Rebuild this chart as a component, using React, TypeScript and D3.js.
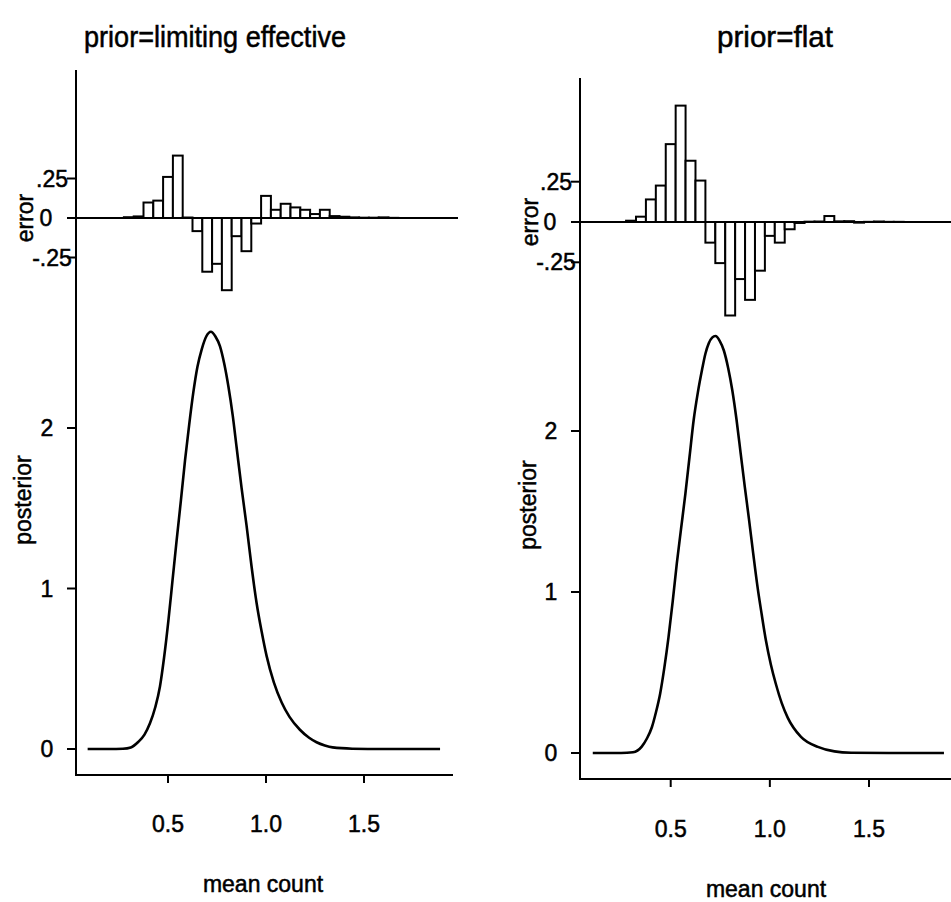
import React from 'react';
import * as d3 from 'd3';

// ---------- data ----------
const panelTitles = ['prior=limiting effective', 'prior=flat'];
const xTicks = [0.5, 1.0, 1.5];
const xTickLabels = ['0.5', '1.0', '1.5'];
const postTicks = [0, 1, 2];
const postTickLabels = ['0', '1', '2'];
const errTicks = [0.25, 0, -0.25];
const errTickLabels = ['.25', '0', '-.25'];
const xAxisTitle = 'mean count';
const postAxisTitle = 'posterior';
const errAxisTitle = 'error';

const binWidth = 0.05;
const binLefts = [
  0.275, 0.325, 0.375, 0.425, 0.475, 0.525, 0.575, 0.625, 0.675, 0.725,
  0.775, 0.825, 0.875, 0.925, 0.975, 1.025, 1.075, 1.125, 1.175, 1.225,
  1.275, 1.325, 1.375, 1.425, 1.475, 1.525, 1.575, 1.625,
];
const errLimiting = [
  0.005, 0.01, 0.098, 0.11, 0.26, 0.395, 0.003, -0.083, -0.34, -0.29,
  -0.457, -0.115, -0.21, -0.035, 0.14, 0.052, 0.09, 0.067, 0.052, 0.025,
  0.052, 0.012, 0.008, 0.004, 0.002, 0.002, 0.004, 0.001,
];
const errFlat = [
  0.008, 0.033, 0.14, 0.226, 0.483, 0.722, 0.38, 0.257, -0.128, -0.255,
  -0.58, -0.354, -0.483, -0.302, -0.086, -0.128, -0.045, -0.006, 0.002, 0.003,
  0.037, 0.004, 0.005, -0.004, 0.001, 0.003, 0.001, 0.001,
];

const postXLimiting = [
  0.09, 0.2, 0.27, 0.31, 0.349, 0.38, 0.408, 0.435, 0.459, 0.48, 0.502, 0.523,
  0.544, 0.566, 0.587, 0.608, 0.629, 0.65, 0.672, 0.695, 0.719, 0.742, 0.765,
  0.787, 0.808, 0.83, 0.85, 0.875, 0.901, 0.926, 0.952, 0.978, 1.003, 1.04,
  1.08, 1.12, 1.173, 1.22, 1.258, 1.3, 1.34, 1.44, 1.6, 1.888,
];
const postYLimiting = [
  0, 0, 0.002, 0.01, 0.045, 0.09, 0.16, 0.26, 0.39, 0.57, 0.8, 1.05,
  1.3, 1.55, 1.8, 2.02, 2.22, 2.38, 2.49, 2.57, 2.6, 2.57, 2.51,
  2.4, 2.26, 2.08, 1.88, 1.63, 1.39, 1.14, 0.91, 0.73, 0.58, 0.415,
  0.29, 0.2, 0.12, 0.07, 0.042, 0.022, 0.01, 0.002, 0, 0,
];
const postXFlat = [
  0.107, 0.25, 0.31, 0.354, 0.38, 0.405, 0.425, 0.447, 0.468, 0.489, 0.51,
  0.531, 0.552, 0.574, 0.595, 0.616, 0.637, 0.658, 0.675, 0.692, 0.709, 0.726,
  0.747, 0.768, 0.79, 0.811, 0.832, 0.853, 0.874, 0.895, 0.916, 0.938, 0.959,
  0.98, 1.005, 1.03, 1.06, 1.09, 1.157, 1.242, 1.326, 1.41, 1.6, 1.878,
];
const postYFlat = [
  0, 0, 0.005, 0.04, 0.09, 0.16, 0.25, 0.37, 0.53, 0.72, 0.94,
  1.18, 1.39, 1.61, 1.84, 2.07, 2.24, 2.38, 2.48, 2.545, 2.58, 2.59,
  2.56, 2.5, 2.39, 2.25, 2.07, 1.86, 1.65, 1.45, 1.24, 1.03, 0.86,
  0.7, 0.55, 0.43, 0.31, 0.22, 0.1, 0.038, 0.01, 0.002, 0, 0,
];

// ---------- layout ----------
const W = 951;
const H = 902;
const FONT = '"Liberation Sans", Arial, Helvetica, sans-serif';

interface PanelLayout {
  title: string;
  titleX: number;
  titleY: number;
  titleLen: number;
  axisX: number;
  axisTop: number;
  bottomY: number;
  xRight: number;
  histRight: number;
  xPx: [number, number];
  postPx: [number, number];
  errPx: [number, number];
  errors: number[];
  px: number[];
  py: number[];
  tickLabelY: number;
  axisTitleY: number;
  axisTitleX: number;
  yTitleX: number;
  yTitleY: number;
  errTitleX: number;
}

const panels: PanelLayout[] = [
  {
    title: panelTitles[0],
    titleX: 215,
    titleY: 47,
    titleLen: 262,
    axisX: 76,
    axisTop: 70,
    bottomY: 775,
    xRight: 453,
    histRight: 458,
    xPx: [168, 364],
    postPx: [749, 428],
    errPx: [257.5, 178.5],
    errors: errLimiting,
    px: postXLimiting,
    py: postYLimiting,
    tickLabelY: 832,
    axisTitleY: 892,
    axisTitleX: 263,
    yTitleX: 31,
    yTitleY: 500,
    errTitleX: 33,
  },
  {
    title: panelTitles[1],
    titleX: 775,
    titleY: 47,
    titleLen: 116,
    axisX: 580,
    axisTop: 78,
    bottomY: 779,
    xRight: 951,
    histRight: 951,
    xPx: [670.7, 869],
    postPx: [753, 431],
    errPx: [262.3, 181.7],
    errors: errFlat,
    px: postXFlat,
    py: postYFlat,
    tickLabelY: 837,
    axisTitleY: 897,
    axisTitleX: 766,
    yTitleX: 536,
    yTitleY: 505,
    errTitleX: 538,
  },
];

const textStroke = { stroke: '#000', strokeWidth: 0.5 };

function Panel({ p }: { p: PanelLayout }) {
  const x = d3.scaleLinear().domain([0.5, 1.5]).range(p.xPx);
  const yPost = d3.scaleLinear().domain([0, 2]).range(p.postPx);
  const yErr = d3.scaleLinear().domain([-0.25, 0.25]).range(p.errPx);
  const line = d3
    .line<number>()
    .x((_, i) => x(p.px[i]))
    .y((d) => yPost(d))
    .curve(d3.curveMonotoneX);
  const pathD = line(p.py) || '';
  const fs = 23;
  return (
    <g>
      <text
        x={p.titleX}
        y={p.titleY}
        fontSize={29}
        textAnchor="middle"
        fontFamily={FONT}
        textLength={p.titleLen}
        lengthAdjust="spacingAndGlyphs"
        {...textStroke}
      >
        {p.title}
      </text>
      {/* vertical axis */}
      <line x1={p.axisX} x2={p.axisX} y1={p.axisTop} y2={p.bottomY} stroke="#000" strokeWidth={2} />
      {/* bottom axis */}
      <line x1={p.axisX - 1} x2={p.xRight} y1={p.bottomY} y2={p.bottomY} stroke="#000" strokeWidth={2} />
      {xTicks.map((t, i) => (
        <g key={'xt' + i}>
          <line x1={x(t)} x2={x(t)} y1={p.bottomY} y2={p.bottomY + 8} stroke="#000" strokeWidth={2} />
          <text x={x(t)} y={p.tickLabelY} fontSize={fs} textAnchor="middle" fontFamily={FONT} {...textStroke}>
            {xTickLabels[i]}
          </text>
        </g>
      ))}
      <text x={p.axisTitleX} y={p.axisTitleY} fontSize={fs} textAnchor="middle" fontFamily={FONT} {...textStroke}>
        {xAxisTitle}
      </text>
      {/* posterior ticks */}
      {postTicks.map((t, i) => (
        <g key={'pt' + i}>
          <line x1={p.axisX - 9} x2={p.axisX} y1={yPost(t)} y2={yPost(t)} stroke="#000" strokeWidth={2} />
          <text
            x={p.axisX - 29}
            y={yPost(t)}
            dy="0.35em"
            fontSize={fs}
            textAnchor="middle"
            fontFamily={FONT}
            {...textStroke}
          >
            {postTickLabels[i]}
          </text>
        </g>
      ))}
      <text
        transform={`translate(${p.yTitleX},${p.yTitleY}) rotate(-90)`}
        fontSize={fs}
        textAnchor="middle"
        fontFamily={FONT}
        {...textStroke}
      >
        {postAxisTitle}
      </text>
      {/* error histogram */}
      {p.errors.map((v, i) => {
        const x0 = x(binLefts[i]);
        const x1 = x(binLefts[i] + binWidth);
        const y0 = yErr(Math.max(0, v));
        const y1 = yErr(Math.min(0, v));
        return (
          <rect
            key={'b' + i}
            x={x0}
            y={y0}
            width={x1 - x0}
            height={Math.max(0, y1 - y0)}
            fill="#fff"
            stroke="#000"
            strokeWidth={2}
          />
        );
      })}
      <line x1={p.axisX} x2={p.histRight} y1={yErr(0)} y2={yErr(0)} stroke="#000" strokeWidth={2} />
      {errTicks.map((t, i) => (
        <g key={'et' + i}>
          <line x1={p.axisX - 9} x2={p.axisX} y1={yErr(t)} y2={yErr(t)} stroke="#000" strokeWidth={2} />
          <text
            x={p.axisX - (t === 0 ? 30 : 24)}
            y={yErr(t)}
            dy="0.35em"
            fontSize={fs}
            textAnchor="middle"
            fontFamily={FONT}
            {...textStroke}
          >
            {errTickLabels[i]}
          </text>
        </g>
      ))}
      <text
        transform={`translate(${p.errTitleX},${yErr(0)}) rotate(-90)`}
        fontSize={fs}
        textAnchor="middle"
        fontFamily={FONT}
        {...textStroke}
      >
        {errAxisTitle}
      </text>
      {/* posterior curve */}
      <path d={pathD} fill="none" stroke="#000" strokeWidth={2.6} strokeLinejoin="round" />
    </g>
  );
}

export default function App() {
  return (
    <svg
      width={W}
      height={H}
      viewBox={`0 0 ${W} ${H}`}
      style={{ position: 'absolute', left: 0, top: 0, background: '#fff' }}
    >
      <rect x={0} y={0} width={W} height={H} fill="#fff" />
      {panels.map((p, i) => (
        <Panel key={i} p={p} />
      ))}
    </svg>
  );
}
